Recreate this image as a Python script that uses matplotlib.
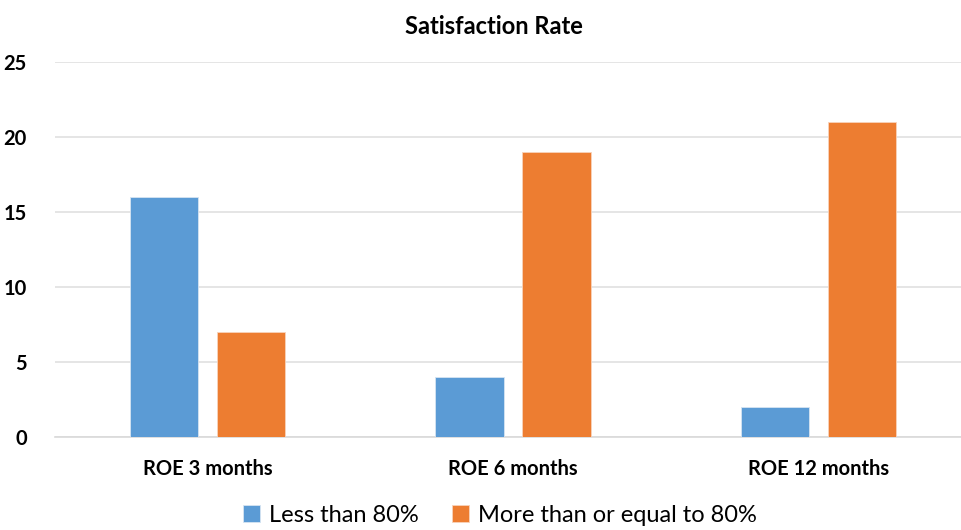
import matplotlib
matplotlib.use("Agg")
import matplotlib.pyplot as plt
import numpy as np

categories = ["ROE 3 months", "ROE 6 months", "ROE 12 months"]
less_than_80 = [16, 4, 2]
more_or_equal_80 = [7, 19, 21]
yticks = [0, 5, 10, 15, 20, 25]

plt.rcParams['font.family'] = ['Lato', 'DejaVu Sans']

fig = plt.figure(figsize=(9.62, 5.30), dpi=100)
ax = fig.add_axes([0.0569, 0.1755, 0.9527, 0.7075])

x = np.arange(len(categories))
width = 0.223
gap = 0.062
blue = '#5b9bd5'
orange = '#ed7d31'

ax.bar(x - (width + gap) / 2, less_than_80, width, color=blue, edgecolor='#d6e4f2',
       linewidth=0.6, label="Less than 80%", zorder=3)
ax.bar(x + (width + gap) / 2, more_or_equal_80, width, color=orange, edgecolor='#f8d3bb',
       linewidth=0.6, label="More than or equal to 80%", zorder=3)

ax.set_xlim(-0.5, len(categories) - 0.5)
ax.set_ylim(0, 25)
ax.set_yticks(yticks)
ax.set_yticklabels([str(v) for v in yticks], fontsize=14.5, fontweight='bold')
ax.set_xticks(x)
ax.set_xticklabels(categories, fontsize=14.5, fontweight='bold')
ax.tick_params(axis='both', length=0)
ax.tick_params(axis='y', pad=20)
ax.tick_params(axis='x', pad=16)

# light grid like Excel
ax.grid(axis='y', color='#e0e0e0', linewidth=1.2, zorder=0)
for side in ['top', 'right', 'left']:
    ax.spines[side].set_visible(False)
ax.spines['bottom'].set_color('#d9d9d9')
ax.spines['bottom'].set_linewidth(1.2)

fig.suptitle("Satisfaction Rate", fontsize=17, fontweight='bold', x=0.513, y=0.972)
fig.legend(loc='lower center', ncol=2, frameon=False, fontsize=17,
           bbox_to_anchor=(0.52, -0.032), handlelength=0.7, handleheight=0.7,
           handletextpad=0.4, columnspacing=1.4)

fig.savefig('out.png', dpi=100)
